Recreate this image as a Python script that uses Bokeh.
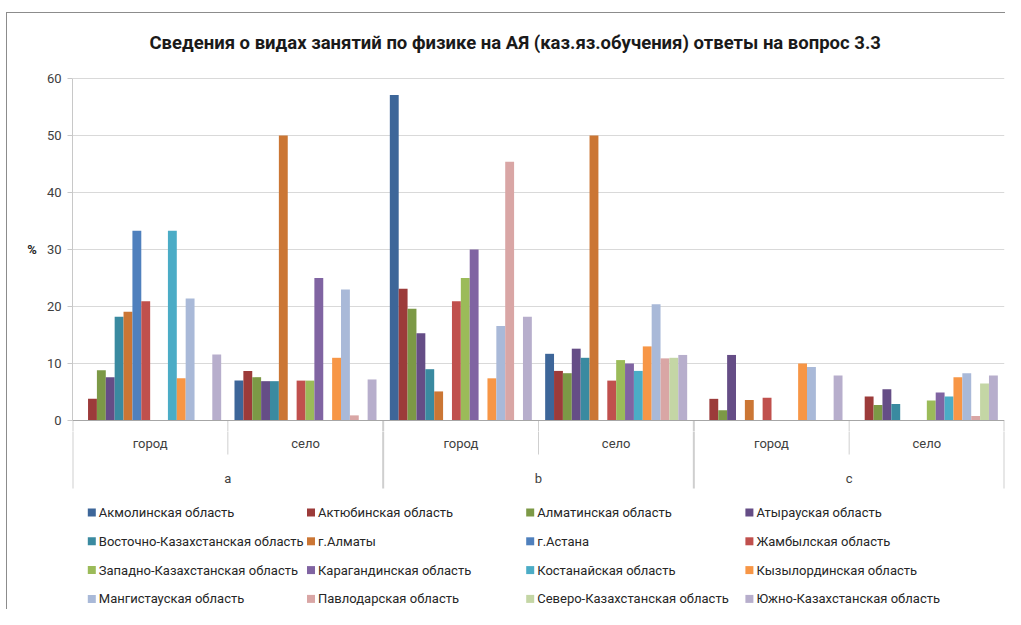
from bokeh.plotting import figure
from bokeh.layouts import column
from bokeh.models import FactorRange, Range1d, FixedTicker, ColumnDataSource, Span, Title
from bokeh.transform import dodge
from bokeh.core.properties import value
from bokeh.embed import file_html
from bokeh.resources import INLINE

# ---------------- data ----------------
letters = ["a", "b", "c"]
places = ["город", "село"]
categories = [(l, p) for l in letters for p in places]

regions = [
    "Акмолинская область", "Актюбинская область", "Алматинская область", "Атырауская область",
    "Восточно-Казахстанская область", "г.Алматы", "г.Астана", "Жамбылская область",
    "Западно-Казахстанская область", "Карагандинская область", "Костанайская область", "Кызылординская область",
    "Мангистауская область", "Павлодарская область", "Северо-Казахстанская область", "Южно-Казахстанская область",
]
colors = [
    "#3d6699", "#9c3b3a", "#7c9946", "#654d86", "#3a8aa0", "#cb7634", "#4f80bd", "#c0504d",
    "#9bbb59", "#8064a2", "#4bacc6", "#f79646", "#a9b9d8", "#d9a6a5", "#c4d6a5", "#b7aecc",
]

# values in category order: a-город, a-село, b-город, b-село, c-город, c-село
akmola    = [0.0, 7.0, 57.1, 11.7, 0.0, 0.0]
aktobe    = [3.8, 8.7, 23.1, 8.7, 3.8, 4.2]
almaty_ob = [8.8, 7.6, 19.6, 8.3, 1.8, 2.7]
atyrau    = [7.6, 6.9, 15.3, 12.6, 11.5, 5.5]
vko       = [18.2, 6.9, 9.0, 11.0, 0.0, 2.9]
almaty    = [19.1, 50.0, 5.1, 50.0, 3.6, 0.0]
astana    = [33.3, 0.0, 0.0, 0.0, 0.0, 0.0]
zhambyl   = [20.9, 7.0, 20.9, 7.0, 4.0, 0.0]
zko       = [0.0, 7.0, 25.0, 10.6, 0.0, 3.5]
karaganda = [0.0, 25.0, 30.0, 10.0, 0.0, 4.9]
kostanay  = [33.3, 0.0, 0.0, 8.7, 0.0, 4.2]
kyzylorda = [7.4, 11.0, 7.4, 13.0, 10.0, 7.6]
mangystau = [21.4, 23.0, 16.6, 20.4, 9.4, 8.3]
pavlodar  = [0.0, 0.9, 45.4, 10.9, 0.0, 0.8]
sko       = [0.0, 0.0, 0.0, 11.0, 0.0, 6.5]
yuko      = [11.6, 7.2, 18.2, 11.5, 7.9, 7.9]
series = [akmola, aktobe, almaty_ob, atyrau, vko, almaty, astana, zhambyl,
          zko, karaganda, kostanay, kyzylorda, mangystau, pavlodar, sko, yuko]

y_ticks = [0, 10, 20, 30, 40, 50, 60]
title_text = "Сведения о видах занятий по физике на АЯ (каз.яз.обучения) ответы на вопрос 3.3"

# ---------------- layout (picture pixels) ----------------
OUTER_X0, OUTER_Y0 = 1, 1          # picture position of the page content origin
TOTAL_W, TOTAL_H = 1005, 609
M_LEFT, M_TOP = 6, 12              # css margin before the chart border line
BORDER = 1
X0, Y0 = OUTER_X0 + M_LEFT + BORDER, OUTER_Y0 + M_TOP + BORDER
W = TOTAL_W - M_LEFT - BORDER
H = TOTAL_H - M_TOP - BORDER
FRAME_L = 73
FRAME_R = X0 + W - 1
Y60, ZERO_Y = 79, 421              # picture y of values 60 and 0
PX_PER_UNIT = (ZERO_Y - Y60) / 60.0
SPLIT_Y = 432                      # chart figure / label+legend figure boundary
TOP_FRAME = 2 * ((Y60 + ZERO_Y) / 2) - SPLIT_Y   # keeps the y-axis title centred at 30
BOTTOM = Y0 + H
PX_PER_CAT = (FRAME_R - FRAME_L) / len(categories)

def ydata(py):
    return (ZERO_Y - py) / PX_PER_UNIT

def xdata(px):
    return (px - FRAME_L) / PX_PER_CAT

FONT = "Roboto"
TXT = "#404040"
SEP = "#cfcfcf"

x_range = FactorRange(*categories, factor_padding=0, group_padding=0, subgroup_padding=0, range_padding=0)


def add_separators(fig):
    y_start = [0.0] * 3
    short = [(l, "село") for l in letters]
    fig.segment(x0=dodge("c", -0.5, range=x_range), x1=dodge("c", -0.5, range=x_range),
                y0="y0", y1="y1",
                source=ColumnDataSource(dict(c=short, y0=y_start, y1=[ydata(455)] * 3)),
                line_color=SEP, line_width=1)
    long_ = [(l, "город") for l in letters]
    fig.segment(x0=dodge("c", -0.5, range=x_range), x1=dodge("c", -0.5, range=x_range),
                y0="y0", y1="y1",
                source=ColumnDataSource(dict(c=long_, y0=y_start, y1=[ydata(489)] * 3)),
                line_color=SEP, line_width=2)
    fig.segment(x0=dodge("c", 0.5, range=x_range), x1=dodge("c", 0.5, range=x_range),
                y0="y0", y1="y1",
                source=ColumnDataSource(dict(c=[("c", "село")], y0=[0.0], y1=[ydata(489)])),
                line_color=SEP, line_width=2)


# ---------- chart figure ----------
p = figure(width=W, height=SPLIT_Y - Y0, x_range=x_range,
           y_range=Range1d(ydata(SPLIT_Y), ydata(TOP_FRAME)),
           output_backend="svg", toolbar_location=None, tools="")
p.min_border_left = FRAME_L - X0
p.min_border_right = (X0 + W) - FRAME_R
p.min_border_top = int(round(TOP_FRAME - Y0))
p.min_border_bottom = 0
p.outline_line_color = None
p.background_fill_color = "white"
p.border_fill_color = "white"

p.title = Title(text=title_text, align="left", offset=77, standoff=28,
                text_font=FONT, text_font_size="18.5px", text_font_style="bold", text_color="#1a1a1a")

p.xaxis.visible = False
p.xgrid.visible = False
yax = p.yaxis[0]
yax.ticker = FixedTicker(ticks=y_ticks)
yax.bounds = (0, 60)
yax.axis_line_color = "#c8c8c8"
yax.major_tick_line_color = "#c8c8c8"
yax.major_tick_out = 5
yax.major_tick_in = 0
yax.minor_tick_line_color = None
yax.major_label_standoff = 6
yax.major_label_text_font = FONT
yax.major_label_text_font_size = "13px"
yax.major_label_text_color = TXT
yax.axis_label = "%"
yax.axis_label_orientation = "horizontal"
yax.axis_label_standoff = 7
yax.axis_label_text_font = FONT
yax.axis_label_text_font_size = "13px"
yax.axis_label_text_font_style = "bold"
yax.axis_label_text_color = "#262626"

p.ygrid[0].ticker = FixedTicker(ticks=y_ticks[1:])
p.ygrid[0].grid_line_color = "#d9d9d9"
add_separators(p)
p.add_layout(Span(location=0, dimension="width", line_color="#a6a6a6", line_width=1))

n = len(series)
slot = 1.0 / (n + 1.5)
for i, (name, vals, col) in enumerate(zip(regions, series, colors)):
    off = -0.5 + (0.75 + i + 0.5) * slot
    src = ColumnDataSource(dict(cat=categories, v=vals))
    p.vbar(x=dodge("cat", off, range=x_range), top="v", bottom=0, width=slot,
           source=src, fill_color=col, line_color=None)

# ---------- category labels + legend figure ----------
q = figure(width=W, height=BOTTOM - SPLIT_Y, x_range=x_range,
           y_range=Range1d(ydata(BOTTOM), ydata(SPLIT_Y)),
           output_backend="svg", toolbar_location=None, tools="",
           x_axis_location=None, y_axis_location=None)
q.min_border_left = FRAME_L - X0
q.min_border_right = (X0 + W) - FRAME_R
q.min_border_top = 0
q.min_border_bottom = 0
q.grid.visible = False
q.outline_line_color = None
q.background_fill_color = "white"
q.border_fill_color = "white"

add_separators(q)
q.text(x=categories, y=[ydata(444)] * len(categories), text=[c[1] for c in categories],
       text_font=value(FONT), text_font_size="13px", text_color=TXT,
       text_align="center", text_baseline="middle")
q.text(x=letters, y=[ydata(479)] * len(letters), text=letters,
       text_font=value(FONT), text_font_size="13px", text_color=TXT,
       text_align="center", text_baseline="middle")

LEG_X0, LEG_DX, LEG_Y0, LEG_DY = 92.3, 219.2, 513.0, 28.8
lx = [xdata(LEG_X0 + LEG_DX * (i % 4)) for i in range(n)]
ly = [ydata(LEG_Y0 + LEG_DY * (i // 4)) for i in range(n)]
q.scatter(x=lx, y=ly, marker="square", size=8, fill_color=colors, line_color=None)
q.text(x=lx, y=ly, text=regions, x_offset=7, text_font=value(FONT), text_font_size="13px",
       text_color="#262626", text_align="left", text_baseline="middle")

layout = column(p, q, spacing=0, margin=(M_TOP, 0, 0, M_LEFT),
                styles={"border-top": f"{BORDER}px solid #8c8c8c",
                        "border-left": f"{BORDER}px solid #8c8c8c"})
open("out.html", "w").write(file_html(layout, INLINE))
